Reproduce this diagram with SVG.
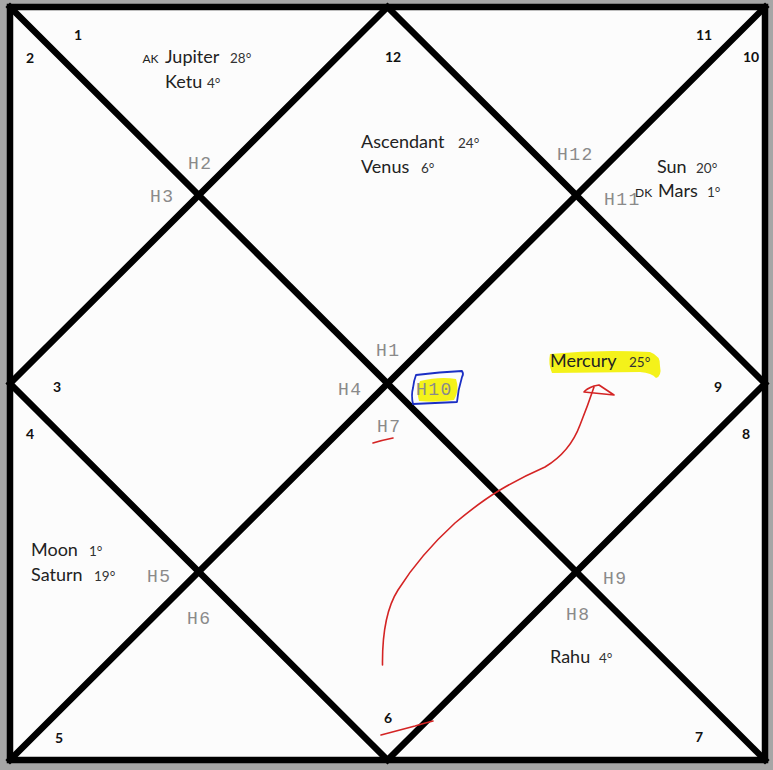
<svg xmlns="http://www.w3.org/2000/svg" width="773" height="770" viewBox="0 0 773 770">
<style>
.grid{fill:none;stroke:#000;stroke-width:6.5;stroke-linecap:square}
.sn{font-family:Lato,"Liberation Sans",sans-serif;font-size:14px;font-weight:700;fill:#111}
.h{font-family:"Liberation Mono","DejaVu Sans Mono",monospace;font-size:18px;fill:#8a8a8a;letter-spacing:1.5px}
.p{font-family:Lato,"Liberation Sans",sans-serif;font-size:18px;fill:#222}
.d{font-size:13.5px;fill:#333}
.t{font-size:12px}
.red{fill:none;stroke:#d42424;stroke-width:1.6;stroke-linecap:round;stroke-linejoin:round}
</style>
<rect x="0" y="0" width="773" height="770" fill="#a6a6a6"/>
<rect x="10" y="7" width="755" height="753" fill="#fcfcfc"/>
<g id="chart-lines">
<rect class="grid" x="10" y="7" width="755" height="753"/>
<line class="grid" x1="10" y1="7" x2="765" y2="760"/>
<line class="grid" x1="765" y1="7" x2="10" y2="760"/>
<polygon class="grid" points="387.5,7 765,383.5 387.5,760 10,383.5"/>
</g>
<g id="signs">
<text class="sn" x="74" y="40">1</text>
<text class="sn" x="26" y="62.5">2</text>
<text class="sn" x="385" y="62">12</text>
<text class="sn" x="696" y="40">11</text>
<text class="sn" x="743" y="62">10</text>
<text class="sn" x="53" y="391.5">3</text>
<text class="sn" x="26" y="439">4</text>
<text class="sn" x="714" y="391.5">9</text>
<text class="sn" x="742" y="439">8</text>
<text class="sn" x="55" y="743">5</text>
<text class="sn" x="384" y="723">6</text>
<text class="sn" x="695" y="741.5">7</text>
</g>
<g id="highlights">
<path d="M550,354 Q600,349 650,352 Q661,356 660,366 Q662,376 656,378 Q652,373 640,372 L552,373 Q548,364 550,354 Z" fill="#f4f21a"/>
<path d="M420,381 Q440,376 456,379 Q460,390 454,400 Q436,403 419,401 Q416,390 420,381 Z" fill="#f4f21a"/>
</g>
<g id="house-labels">
<text class="h" x="188" y="169">H2</text>
<text class="h" x="150" y="202">H3</text>
<text class="h" x="557" y="160">H12</text>
<text class="h" x="604" y="205">H11</text>
<text class="h" x="376" y="356">H1</text>
<text class="h" x="338" y="395">H4</text>
<text class="h" x="416" y="395">H10</text>
<text class="h" x="377" y="432">H7</text>
<text class="h" x="147" y="582">H5</text>
<text class="h" x="187" y="624">H6</text>
<text class="h" x="603" y="584">H9</text>
<text class="h" x="566" y="620">H8</text>
</g>
<g id="house-12-planets">
<text class="p" x="142.5" y="63"><tspan class="t">AK</tspan> <tspan x="165">Jupiter</tspan> <tspan class="d" x="230">28°</tspan></text>
<text class="p" x="165" y="88">Ketu <tspan class="d" x="207">4°</tspan></text>
</g>
<g id="house-1-planets">
<text class="p" x="361" y="148">Ascendant <tspan class="d" x="458">24°</tspan></text>
<text class="p" x="361" y="173">Venus <tspan class="d" x="421">6°</tspan></text>
</g>
<g id="house-11-planets">
<text class="p" x="657" y="173">Sun <tspan class="d" x="696">20°</tspan></text>
<text class="p" x="635" y="197"><tspan class="t">DK</tspan> <tspan x="658">Mars</tspan> <tspan class="d" x="707">1°</tspan></text>
</g>
<g id="house-9-planets">
<text class="p" x="550" y="366.5">Mercury <tspan class="d" x="629">25°</tspan></text>
</g>
<g id="house-3-planets">
<text class="p" x="31" y="555.5">Moon <tspan class="d" x="89">1°</tspan></text>
<text class="p" x="31" y="580.5">Saturn <tspan class="d" x="94">19°</tspan></text>
</g>
<g id="house-7-planets">
<text class="p" x="550" y="663">Rahu <tspan class="d" x="599">4°</tspan></text>
</g>
<g id="annotations">
<path d="M416,375 Q440,372 462,371 Q464,374 462,377 Q458,390 457,402 Q435,403 413,404 Q411,395 413,388 Q414,380 416,375 Z" fill="none" stroke="#1b2fc4" stroke-width="1.8" stroke-linejoin="round"/>
<path class="red" d="M382.5,665 Q382,615 398,590 Q420,555 455,523 Q480,502 500,490 Q520,478 545,467 Q570,452 580,425 Q588,405 594,387"/>
<path class="red" d="M594,386 L599,385 L614,395 L584,392 Q586,389 594,386 Z"/>
<path class="red" d="M373,443 Q383,440 393,438"/>
<path class="red" d="M381,735 Q400,730 415,726 Q425,723 433,721"/>
</g>
</svg>
